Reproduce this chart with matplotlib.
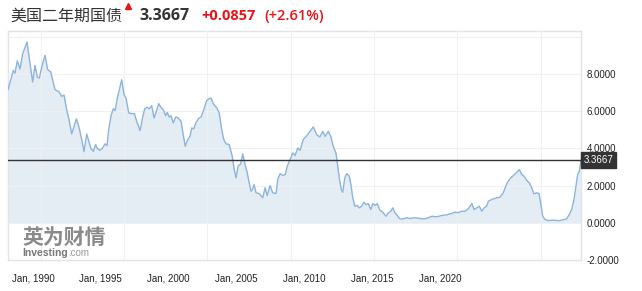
import matplotlib
matplotlib.use("Agg")
import matplotlib.pyplot as plt
from matplotlib.lines import Line2D

# ---------------- data ----------------
years = [1988.04, 1988.36, 1988.46, 1988.60, 1988.76, 1988.92, 1989.18, 1989.36, 1989.52, 1989.66,
         1989.80, 1989.92, 1990.06, 1990.26, 1990.42, 1990.60, 1990.86, 1991.10, 1991.26, 1991.40,
         1991.56, 1991.70, 1991.86, 1992.00, 1992.14, 1992.30, 1992.46, 1992.60, 1992.76, 1992.92,
         1993.02, 1993.16, 1993.30, 1993.40, 1993.56, 1993.70, 1993.86, 1993.98, 1994.08, 1994.22,
         1994.36, 1994.46, 1994.60, 1994.72, 1994.86, 1995.00, 1995.12, 1995.28, 1995.46, 1995.62,
         1995.76, 1995.96, 1996.12, 1996.24, 1996.38, 1996.51, 1996.66, 1996.80, 1996.92, 1997.08,
         1997.22, 1997.35, 1997.50, 1997.59, 1997.71, 1997.82, 1997.95, 1998.10, 1998.25, 1998.42,
         1998.55, 1998.67, 1998.82, 1998.96, 1999.06, 1999.18, 1999.32, 1999.48, 1999.62, 1999.75,
         1999.96, 2000.10, 2000.22, 2000.35, 2000.56, 2000.71, 2000.86, 2000.98, 2001.12, 2001.31,
         2001.49, 2001.61, 2001.72, 2001.84, 2002.00, 2002.12, 2002.26, 2002.39, 2002.51, 2002.62,
         2002.72, 2002.80, 2002.92, 2003.10, 2003.32, 2003.46, 2003.59, 2003.76, 2003.92, 2004.12,
         2004.22, 2004.36, 2004.52, 2004.67, 2004.79, 2004.96, 2005.12, 2005.26, 2005.42, 2005.56,
         2005.75, 2005.96, 2006.16, 2006.35, 2006.56, 2006.75, 2006.92, 2007.06, 2007.25, 2007.40,
         2007.55, 2007.71, 2007.82, 2007.91, 2008.03, 2008.12, 2008.24, 2008.36, 2008.51, 2008.61,
         2008.72, 2008.85, 2008.99, 2009.11, 2009.26, 2009.39, 2009.51, 2009.65, 2009.80, 2009.92,
         2010.05, 2010.19, 2010.35, 2010.55, 2010.71, 2010.85, 2011.00, 2011.12, 2011.25, 2011.39,
         2011.55, 2011.75, 2011.96, 2012.15, 2012.45, 2012.75, 2013.05, 2013.25, 2013.46, 2013.76,
         2014.06, 2014.36, 2014.66, 2014.85, 2015.05, 2015.26, 2015.45, 2015.65, 2015.86, 2016.00,
         2016.16, 2016.31, 2016.46, 2016.60, 2016.76, 2016.85, 2017.06, 2017.36, 2017.55, 2017.75,
         2017.96, 2018.15, 2018.35, 2018.56, 2018.71, 2018.86, 2019.00, 2019.15, 2019.31, 2019.45,
         2019.59, 2019.75, 2019.89, 2019.99, 2020.11, 2020.25, 2020.45, 2020.75, 2021.05, 2021.35,
         2021.55, 2021.71, 2021.85, 2021.99, 2022.11, 2022.21, 2022.31, 2022.41]
yields = [7.15, 8.18, 8.04, 8.70, 8.26, 9.08, 9.70, 8.58, 7.56, 8.45,
          7.83, 7.77, 8.36, 9.00, 8.22, 8.11, 7.15, 7.04, 6.79, 6.86,
          6.07, 5.54, 4.77, 5.18, 5.58, 5.13, 4.47, 3.82, 4.77, 4.29,
          3.97, 3.84, 4.20, 3.98, 3.89, 4.00, 4.24, 4.14, 5.00, 5.75,
          6.13, 6.02, 6.70, 7.15, 7.68, 6.88, 6.70, 5.90, 5.86, 5.86,
          5.45, 4.95, 5.68, 6.13, 6.20, 6.13, 6.29, 5.63, 5.93, 6.40,
          6.20, 6.08, 5.75, 5.93, 5.68, 5.75, 5.36, 5.68, 5.63, 5.45,
          4.73, 4.11, 4.47, 4.64, 5.09, 5.04, 5.39, 5.61, 5.68, 5.98,
          6.56, 6.66, 6.70, 6.40, 6.17, 5.90, 5.00, 4.47, 4.24, 4.20,
          3.57, 2.86, 2.41, 3.04, 3.16, 3.70, 3.13, 2.68, 2.14, 1.69,
          1.82, 2.05, 1.61, 1.57, 1.34, 1.88, 1.46, 2.00, 1.61, 1.57,
          2.32, 2.64, 2.54, 2.59, 3.04, 3.39, 3.75, 3.61, 4.02, 3.89,
          4.47, 4.68, 4.91, 5.15, 4.73, 4.61, 4.91, 4.64, 4.91, 4.64,
          4.11, 3.75, 3.04, 2.41, 1.79, 1.64, 2.41, 2.64, 2.50, 2.05,
          1.34, 0.89, 0.93, 0.80, 0.89, 1.10, 0.98, 1.03, 0.71, 1.03,
          0.93, 1.03, 0.68, 0.54, 0.35, 0.54, 0.62, 0.80, 0.54, 0.39,
          0.21, 0.21, 0.27, 0.23, 0.27, 0.23, 0.21, 0.27, 0.35, 0.32,
          0.39, 0.43, 0.50, 0.57, 0.54, 0.62, 0.62, 0.75, 1.03, 0.71,
          0.80, 0.89, 0.62, 0.80, 0.89, 1.16, 1.25, 1.34, 1.37, 1.61,
          2.11, 2.36, 2.54, 2.71, 2.86, 2.59, 2.50, 2.28, 2.14, 1.88,
          1.55, 1.61, 1.57, 1.07, 0.35, 0.18, 0.12, 0.14, 0.11, 0.16,
          0.21, 0.45, 0.71, 1.25, 1.96, 2.59, 2.77, 3.3667]

last_value = 3.3667
change = "+0.0857"
change_pct = "(+2.61%)"
title = "美国二年期国债"
grid_years = [1990, 1995, 2000, 2005, 2010, 2015, 2020]
label_years = [1990, 1995, 2000, 2005, 2010, 2015, 2020]
y_ticks = [-2, 0, 2, 4, 6, 8, 10]
y_labels = ["-2.0000", "0.0000", "2.0000", "4.0000", "6.0000", "8.0000", ""]

# ---------------- figure ----------------
W, H = 642, 291
fig = plt.figure(figsize=(W / 100, H / 100), dpi=100)
fig.patch.set_facecolor("white")
ax = fig.add_axes([8 / W, 31 / H, 573 / W, 229 / H])
ax.set_xlim(1988.04, 2022.41)
ax.set_ylim(-2, 10.3)

ax.fill_between(years, yields, 0, color="#e4ecf4", lw=0, zorder=1)
ax.plot(years, yields, color="#8cb4dc", lw=1.0, zorder=3)

# grid
ax.set_xticks(grid_years)
ax.set_xticklabels([])
ax.set_yticks(y_ticks)
ax.set_yticklabels(y_labels, fontsize=7, family="Liberation Sans", color="#222222")
ax.yaxis.tick_right()
ax.tick_params(axis="both", length=0)
ax.tick_params(axis="y", pad=4)
ax.grid(True, color="#eef0f4", lw=0.8, zorder=2)
ax.set_axisbelow(False)
for sp in ax.spines.values():
    sp.set_color("#e2e3ea")
    sp.set_linewidth(1.0)

# current value line
ax.axhline(last_value, color="#333333", lw=1.0, zorder=4)
ax.annotate(f"{last_value:.4f}", xy=(1, last_value), xycoords=("axes fraction", "data"),
            xytext=(2.0, 0), textcoords="offset points", ha="left", va="center",
            fontsize=7, family="Liberation Sans", color="white", annotation_clip=False,
            bbox=dict(boxstyle="square,pad=0.3", fc="#333333", ec="#333333"))

# date labels axis (investing-style, independent spacing)
ax2 = ax.twiny()
ax2.set_xlim(1988.16, 2030.38)
ax2.xaxis.set_ticks_position("bottom")
ax2.set_xticks(label_years)
ax2.set_xticklabels([f"Jan, {y}" for y in label_years], fontsize=7,
                    family="Liberation Sans", color="#222222")
ax2.tick_params(axis="x", length=0, pad=10)
for sp in ax2.spines.values():
    sp.set_visible(False)

# title row
cjk = ["Noto Sans CJK SC", "DejaVu Sans"]
fig.text(10 / W, 1 - 16 / H, title, fontsize=11.5, family=cjk, color="#333333",
         ha="left", va="center")
fig.add_artist(Line2D([128 / W], [1 - 6 / H], marker="^", markersize=4,
                      color="#e8141a", transform=fig.transFigure))
fig.text(139 / W, 1 - 16 / H, f"{last_value:.4f}", fontsize=11.5, family="Open Sans",
         weight="bold", color="#333333", ha="left", va="center")
fig.text(201 / W, 1 - 16 / H, change, fontsize=10.5, family="Open Sans",
         weight="bold", color="#e8141a", ha="left", va="center")
fig.text(264 / W, 1 - 16 / H, change_pct, fontsize=10.5, family="Open Sans",
         weight="semibold", color="#e8141a", ha="left", va="center")

# watermark
fig.text(22 / W, 1 - 237 / H, "英为财情", fontsize=15, family=cjk, weight="bold",
         color="#8a8a8a", ha="left", va="center", zorder=10)
t1 = fig.text(22 / W, 1 - 253 / H, "Investing", fontsize=7.5, family="Liberation Sans",
              weight="bold", color="#777777", ha="left", va="center", zorder=10)
ax.annotate(".com", xy=(1, 0.5), xycoords=t1, ha="left", va="center",
            fontsize=7, family="Liberation Sans", color="#999999", annotation_clip=False)

fig.savefig("out.png", dpi=100)
